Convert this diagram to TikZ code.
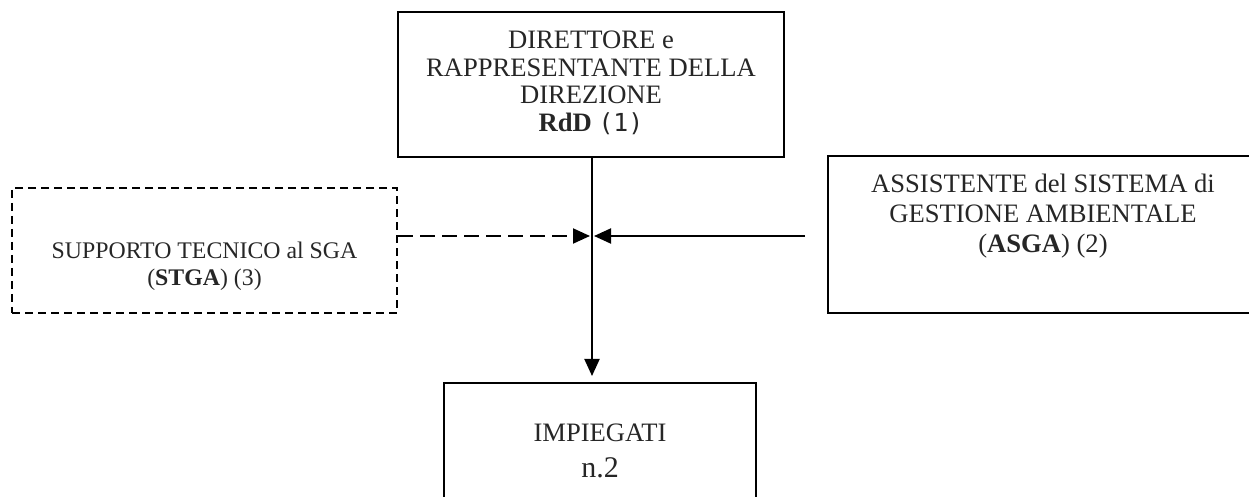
\documentclass[tikz,border=0pt]{standalone}
\usepackage{fontspec}
\setmainfont{Liberation Serif}
\newfontfamily\monofnt{DejaVu Sans Mono}
\usetikzlibrary{arrows.meta}
\begin{document}
\begin{tikzpicture}[x=0.5pt,y=-0.5pt,
  box/.style={draw, line width=1pt, inner sep=0pt},
  dbox/.style={box, dash pattern=on 4pt off 2.5pt},
  txt/.style={align=center, text=black!85, inner sep=0pt, font=\fontsize{13.3}{13.75}\selectfont},
  arr/.style={line width=1pt, -{Triangle[length=8.5pt,width=7.5pt]}},
  darr/.style={arr, dash pattern=on 7.5pt off 3.5pt}]
\useasboundingbox (0,0) rectangle (1249,497);

\node[box, minimum width=193pt, minimum height=72.5pt,
  label={[txt, yshift=0.75pt]center:{DIRETTORE e\\RAPPRESENTANTE DELLA\\DIREZIONE\\\textbf{RdD} {\monofnt\fontsize{12.4}{13.75}\selectfont(1)}}}]
  (top) at (591,84.5) {};

\node[dbox, minimum width=192.5pt, minimum height=62.5pt,
  label={[txt, font=\fontsize{11.9}{13.5}\selectfont, yshift=-7.8pt]center:{SUPPORTO TECNICO al SGA\\(\textbf{STGA}) (3)}}]
  (stga) at (204.5,250.5) {};

\node[box, minimum width=215pt, minimum height=78.5pt,
  label={[txt, font=\fontsize{13.3}{15}\selectfont, yshift=9.25pt]center:{ASSISTENTE del SISTEMA di\\GESTIONE AMBIENTALE\\(\textbf{ASGA}) (2)}}]
  (asga) at (1043,234.5) {};

\node[box, minimum width=156pt, minimum height=70pt,
  label={[txt, yshift=1pt]center:{IMPIEGATI\\[4.25pt]{\fontsize{15}{18}\selectfont n.2}}}]
  (imp) at (600,453) {};

\coordinate (J) at (592,236);
\coordinate (R) at (805,236);

\draw[arr, shorten >=3pt] (J |- top.south) -- (J |- imp.north);
\draw[darr, shorten >=1pt] (stga.east |- J) -- (J);
\draw[arr, shorten >=1pt] (R) -- (J);
\end{tikzpicture}
\end{document}
